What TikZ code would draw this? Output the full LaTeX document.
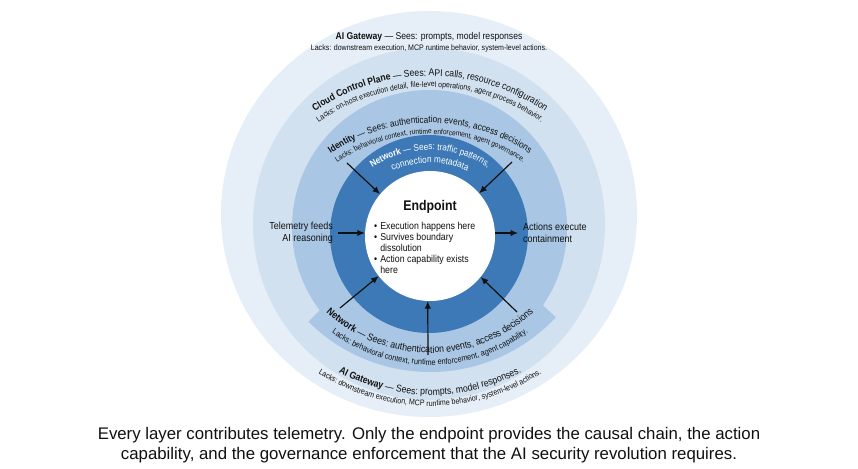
\documentclass[tikz,border=0pt]{standalone}
\usepackage{fontspec}
\setmainfont{Liberation Sans}[FakeStretch=0.88]
\newfontfamily\capfont{Liberation Sans}
\usetikzlibrary{decorations.text,arrows.meta}
\definecolor{ringA}{HTML}{E6EEF7}
\definecolor{ringB}{HTML}{D2E1F0}
\definecolor{ringC}{HTML}{A9C7E4}
\definecolor{ringD}{HTML}{3C79B6}
\definecolor{ink}{HTML}{111111}
\newcommand{\fsz}[1]{\fontsize{#1}{#1}\selectfont}
\newcommand{\arcline}[6]{%
  \path[decorate,decoration={text along path,text align=center,text color=#6,text={#5}}]
    ([shift={(#3:#2)}]#1) arc[start angle=#3,end angle=#4,radius=#2];}
\begin{document}
\begin{tikzpicture}[x=1pt,y=1pt,
  arr/.style={-{Latex[length=7.5pt,width=6.5pt]},line width=1.2pt,ink},
  lbl/.style={inner sep=0pt,text=ink,font=\fontsize{10.2}{11.5}\selectfont}]
\useasboundingbox (0,0) rectangle (858,468);
\fill[white] (0,0) rectangle (858,468);
% rings
\fill[ringA] (429,254) ellipse[x radius=208,y radius=203];
\fill[ringB] (429,244) circle[radius=176];
\fill[ringC] (429.5,240.5) circle[radius=137.5];
\fill[ringC] ([shift={(225:172)}]430,268) arc[start angle=225,end angle=317,radius=172]
   -- ([shift={(317:120)}]430,268) arc[start angle=317,end angle=225,radius=120] -- cycle;
\fill[ringD] (429,234) circle[radius=99];
\node[circle,fill=white,minimum size=130pt,inner sep=0pt] (ep) at (430,232) {};
% top straight labels
\node[inner sep=0pt,text=ink,font=\fsz{9.8}] (agT) at (429,431) {\textbf{AI Gateway} — Sees: prompts, model responses};
\node[inner sep=0pt,text=ink,font=\fsz{8}] (agL) at (429,420) {Lacks: downstream execution, MCP runtime behavior, system-level actions.};
% top arcs
\arcline{430,188}{204}{140}{40}{|\fsz{9.8}\bfseries|Cloud Control Plane|\fsz{9.8}| — Sees: API calls, resource configuration}{ink}
\arcline{430,188}{193}{140}{40}{|\fsz{7.9}|Lacks: on-host execution detail, file-level operations, agent process behavior.}{ink}
\arcline{430,168}{177}{140}{40}{|\fsz{9.4}\bfseries|Identity|\fsz{9.4}| — Sees: authentication events, access decisions}{ink}
\arcline{430,168}{166}{140}{40}{|\fsz{7.5}|Lacks: behavioral context, runtime enforcement, agent governance.}{ink}
\arcline{430,214}{104}{160}{20}{|\fsz{9.3}\bfseries|Network|\fsz{9.3}| — Sees: traffic patterns,}{white}
\arcline{430,214}{91}{160}{20}{|\fsz{9.4}|connection metadata}{white}
% bottom arcs
\arcline{430,268}{153}{205}{335}{|\fsz{10}\bfseries|Network|\fsz{10}| — Sees: authentication events, access decisions}{ink}
\arcline{430,268}{165}{205}{335}{|\fsz{8.3}|Lacks: behavioral context, runtime enforcement, agent capability.}{ink}
\arcline{430,268}{195}{205}{335}{|\fsz{9.9}\bfseries|AI Gateway|\fsz{9.9}| — Sees: prompts, model responses.}{ink}
\arcline{430,268}{206}{205}{335}{|\fsz{8}|Lacks: downstream execution, MCP runtime behavior, system-level actions.}{ink}
% endpoint
\node[inner sep=0pt,text=ink,font=\fsz{14}\bfseries] (ept) at (430,261) {Endpoint};
\node[inner sep=0pt,text=ink,anchor=north west,font=\fontsize{10}{11.2}\selectfont] (epl) at (374,247)
  {\begin{tabular}{@{}l@{\hspace{3pt}}l@{}}•&Execution happens here\\ •&Survives boundary\\ &dissolution\\ •&Action capability exists\\ &here\end{tabular}};
% side labels
\node[lbl,anchor=east,align=right] (tel) at (333,235) {Telemetry feeds\\AI reasoning};
\node[lbl,anchor=west,align=left] (act) at (523,235) {Actions execute\\containment};
% arrows
\coordinate (tA) at (347,305);
\coordinate (tB) at (512,306);
\coordinate (tC) at (340,160);
\coordinate (tD) at (517,156);
\coordinate (tE) at (428,113);
\draw[arr] (tA) -- (ep.140);
\draw[arr] (tB) -- (ep.41);
\draw[arr] (tC) -- (ep.218);
\draw[arr] (tD) -- (ep.321);
\draw[arr] (tE) -- (ep.268);
\draw[arr] ([xshift=5pt]tel.east) -- (tel.east -| ep.west);
\draw[arr] (act.west -| ep.east) -- ([xshift=-5pt]act.west);
% caption
\node[inner sep=0pt,text=ink,align=center,font=\capfont\fontsize{16.8}{20}\selectfont] (cap) at (429,23)
  {Every layer contributes telemetry. Only the endpoint provides the causal chain, the action\\capability, and the governance enforcement that the AI security revolution requires.};
\end{tikzpicture}
\end{document}
